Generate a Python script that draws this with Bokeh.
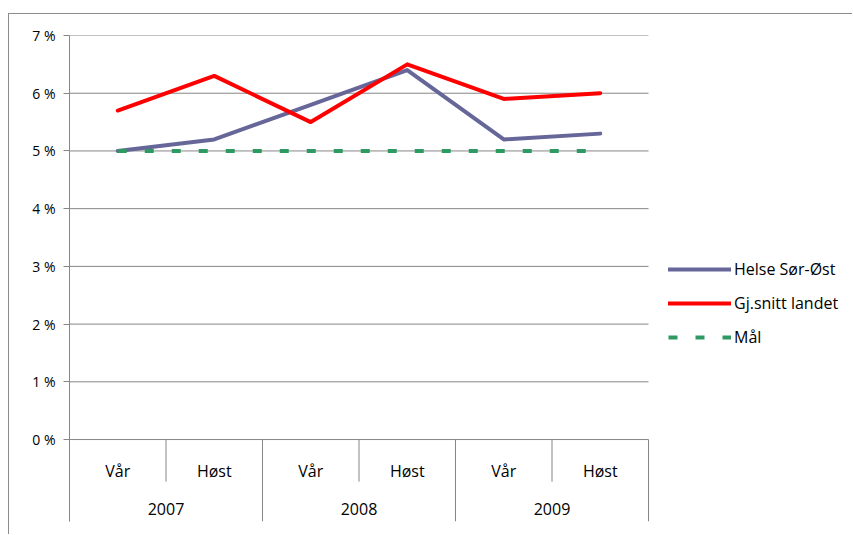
from bokeh.plotting import figure
from bokeh.models import Range1d, FixedTicker, PrintfTickFormatter, Legend, LegendItem
from bokeh.core.properties import value
from bokeh.embed import file_html
from bokeh.resources import INLINE

# ---- data ----
years = ["2007", "2008", "2009"]
seasons = ["Vår", "Høst"]
helse_sor_ost = [5.0, 5.2, 5.8, 6.4, 5.2, 5.3]
gj_snitt_landet = [5.7, 6.3, 5.5, 6.5, 5.9, 6.0]
maal = [5.0, 5.0, 5.0, 5.0, 5.0, 5.0]
y_ticks = [0, 1, 2, 3, 4, 5, 6, 7]
series_names = ["Helse Sør-Øst", "Gj.snitt landet", "Mål"]

# category slots: one unit per (year, season), centred at index + 0.5
categories = [(y, s) for y in years for s in seasons]
n_cat = len(categories)
n_sub = len(seasons)
xc = [i + 0.5 for i in range(n_cat)]
year_x = [sum(xc[j * n_sub:(j + 1) * n_sub]) / n_sub for j in range(len(years))]

GRID = "#868686"
FONT = "Open Sans"
Y_MIN = -1.42
X_END = n_cat * 784 / 579  # plot area extends right to hold the legend

p = figure(width=844, height=521,
           x_range=Range1d(0, X_END), y_range=Range1d(Y_MIN, y_ticks[-1]),
           output_backend="svg", toolbar_location=None,
           min_border_left=60, min_border_top=21, min_border_bottom=14,
           min_border_right=0)
p.styles = {"border-left": "1px solid #8c8c8c", "border-top": "1px solid #8c8c8c",
            "margin-top": "13px", "margin-left": "8px"}
p.outline_line_color = None
p.background_fill_color = "white"
p.border_fill_color = "white"

# y axis
p.yaxis.ticker = FixedTicker(ticks=y_ticks)
p.yaxis.formatter = PrintfTickFormatter(format="%d %%")
p.yaxis.axis_line_color = GRID
p.yaxis.major_tick_line_color = GRID
p.yaxis.major_tick_out = 6
p.yaxis.major_tick_in = 0
p.yaxis.minor_tick_line_color = None
p.yaxis.major_label_text_font = FONT
p.yaxis.major_label_text_font_size = "14px"
p.yaxis.major_label_text_color = "#000000"
p.yaxis.major_label_standoff = 8
p.xgrid.visible = False
p.ygrid.visible = False
p.xaxis.visible = False

# horizontal gridlines over the category span only
p.segment(x0=[0] * len(y_ticks), y0=y_ticks, x1=[n_cat] * len(y_ticks), y1=y_ticks,
          line_color=GRID, line_width=1)

# category axis drawn in the lower band of the plot area
bounds = list(range(n_cat + 1))
bottoms = [Y_MIN if i % n_sub == 0 else -0.73 for i in bounds]
p.segment(x0=bounds, y0=[0] * len(bounds), x1=bounds, y1=bottoms,
          line_color=GRID, line_width=1)
p.text(x=xc, y=[-0.55] * n_cat, text=[s for (_, s) in categories],
       text_align="center", text_baseline="middle", text_font=value(FONT),
       text_font_size="16px", text_color="#000000")
p.text(x=year_x, y=[-1.21] * len(years), text=years,
       text_align="center", text_baseline="middle", text_font=value(FONT),
       text_font_size="16px", text_color="#000000")

# series
r1 = p.line(x=xc, y=helse_sor_ost, line_color="#666699", line_width=4,
            line_join="round", line_cap="round")
r2 = p.line(x=xc, y=gj_snitt_landet, line_color="#FF0000", line_width=4,
            line_join="round", line_cap="round")
r3 = p.line(x=xc, y=maal, line_color="#2E9962", line_width=4,
            line_dash="9 18")

legend = Legend(items=[LegendItem(label=series_names[0], renderers=[r1]),
                       LegendItem(label=series_names[1], renderers=[r2]),
                       LegendItem(label=series_names[2], renderers=[r3])],
                location=(599, 173), glyph_width=63, glyph_height=20,
                label_height=20, spacing=12, padding=0, margin=0,
                label_standoff=3, border_line_color=None,
                background_fill_alpha=0, label_text_font=FONT,
                label_text_font_size="16px", label_text_color="#000000")
p.add_layout(legend)

open("out.html", "w").write(file_html(p, INLINE))
